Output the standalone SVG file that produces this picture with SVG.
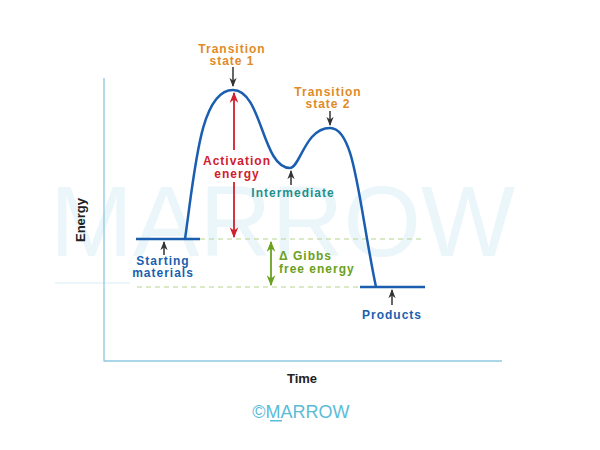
<svg xmlns="http://www.w3.org/2000/svg" width="600" height="450" viewBox="0 0 600 450">
<defs>
<style>
.lbl{font-family:"Liberation Sans",Arial,sans-serif;font-weight:bold;font-size:12px;letter-spacing:1px;text-anchor:middle}
.ax{font-family:"Liberation Sans",Arial,sans-serif;font-weight:bold;font-size:13px;fill:#222;text-anchor:middle}
.curve{fill:none;stroke:#1b5eb0;stroke-width:2.5;stroke-linejoin:round}
.dash{stroke:#b9d48f;stroke-width:1.2;stroke-dasharray:5,4}
.pt{stroke:#333;stroke-width:1.5}
</style>
<marker id="ak" viewBox="0 0 10 10" refX="9" refY="5" markerWidth="6" markerHeight="6" orient="auto-start-reverse"><path d="M0,1 L10,5 L0,9 L3,5 z" fill="#333"/></marker>
<marker id="ar" viewBox="0 0 10 10" refX="9" refY="5" markerWidth="6" markerHeight="6" orient="auto-start-reverse"><path d="M0,1 L10,5 L0,9 L3,5 z" fill="#d0202e"/></marker>
<marker id="ag" viewBox="0 0 10 10" refX="9" refY="5" markerWidth="6" markerHeight="6" orient="auto-start-reverse"><path d="M0,1 L10,5 L0,9 L3,5 z" fill="#6aa121"/></marker>
</defs>
<rect width="600" height="450" fill="#fff"/>
<g id="watermark">
<text x="50" y="256" font-family="'Liberation Sans',Arial,sans-serif" font-size="100" fill="#ebf6fa" textLength="465" lengthAdjust="spacingAndGlyphs">MARROW</text>
<rect x="55" y="282" width="75" height="2" fill="#ebf6fa"/>
</g>
<g id="axes">
<path d="M104,78 V361 H502" fill="none" stroke="#8ec9e0" stroke-width="1.3"/>
<text class="ax" transform="translate(85,220) rotate(-90)">Energy</text>
<text class="ax" x="302" y="383">Time</text>
</g>
<g id="connectors">
<line class="dash" x1="200" y1="239" x2="425" y2="239"/>
<line class="dash" x1="137" y1="287" x2="360" y2="287"/>
<path class="curve" d="M136,239 H200 M185,239 C195,170 200,90 233,90 C262,90 262,168 290,168 C300,168 305,128 330,128 C355,128 358,200 376,287 M360,287 H425"/>
<line x1="234" y1="93" x2="234" y2="150" stroke="#d0202e" stroke-width="1.8" marker-start="url(#ar)"/>
<line x1="234" y1="182" x2="234" y2="237" stroke="#d0202e" stroke-width="1.8" marker-end="url(#ar)"/>
<line x1="271" y1="242" x2="271" y2="285" stroke="#6aa121" stroke-width="1.8" marker-start="url(#ag)" marker-end="url(#ag)"/>
<line class="pt" x1="233" y1="67" x2="233" y2="86" marker-end="url(#ak)"/>
<line class="pt" x1="330" y1="111" x2="330" y2="125" marker-end="url(#ak)"/>
<line class="pt" x1="291" y1="185" x2="291" y2="171" marker-end="url(#ak)"/>
<line class="pt" x1="164" y1="255" x2="164" y2="242" marker-end="url(#ak)"/>
<line class="pt" x1="392" y1="305" x2="392" y2="290" marker-end="url(#ak)"/>
</g>
<g id="ts1"><text class="lbl" fill="#e08a2a"><tspan x="232" y="53">Transition</tspan><tspan x="232" y="65">state 1</tspan></text></g>
<g id="ts2"><text class="lbl" fill="#e08a2a"><tspan x="328" y="96">Transition</tspan><tspan x="328" y="108">state 2</tspan></text></g>
<g id="activation"><text class="lbl" fill="#d0202e"><tspan x="237" y="165">Activation</tspan><tspan x="237" y="178">energy</tspan></text></g>
<g id="intermediate"><text class="lbl" fill="#1f8f8f" x="293" y="197">Intermediate</text></g>
<g id="starting"><text class="lbl" fill="#1a5fae"><tspan x="163" y="265">Starting</tspan><tspan x="163" y="277">materials</tspan></text></g>
<g id="gibbs"><text class="lbl" fill="#6aa121" style="text-anchor:start"><tspan x="279" y="260">Δ Gibbs</tspan><tspan x="279" y="273">free energy</tspan></text></g>
<g id="products"><text class="lbl" fill="#1a5fae" x="392" y="319">Products</text></g>
<g id="logo">
<text x="301" y="418" font-family="'Liberation Sans',Arial,sans-serif" font-size="18" fill="#5bbcd8" text-anchor="middle">©MARROW</text>
<rect x="270" y="420" width="12" height="1.5" fill="#5bbcd8"/>
</g>
</svg>
